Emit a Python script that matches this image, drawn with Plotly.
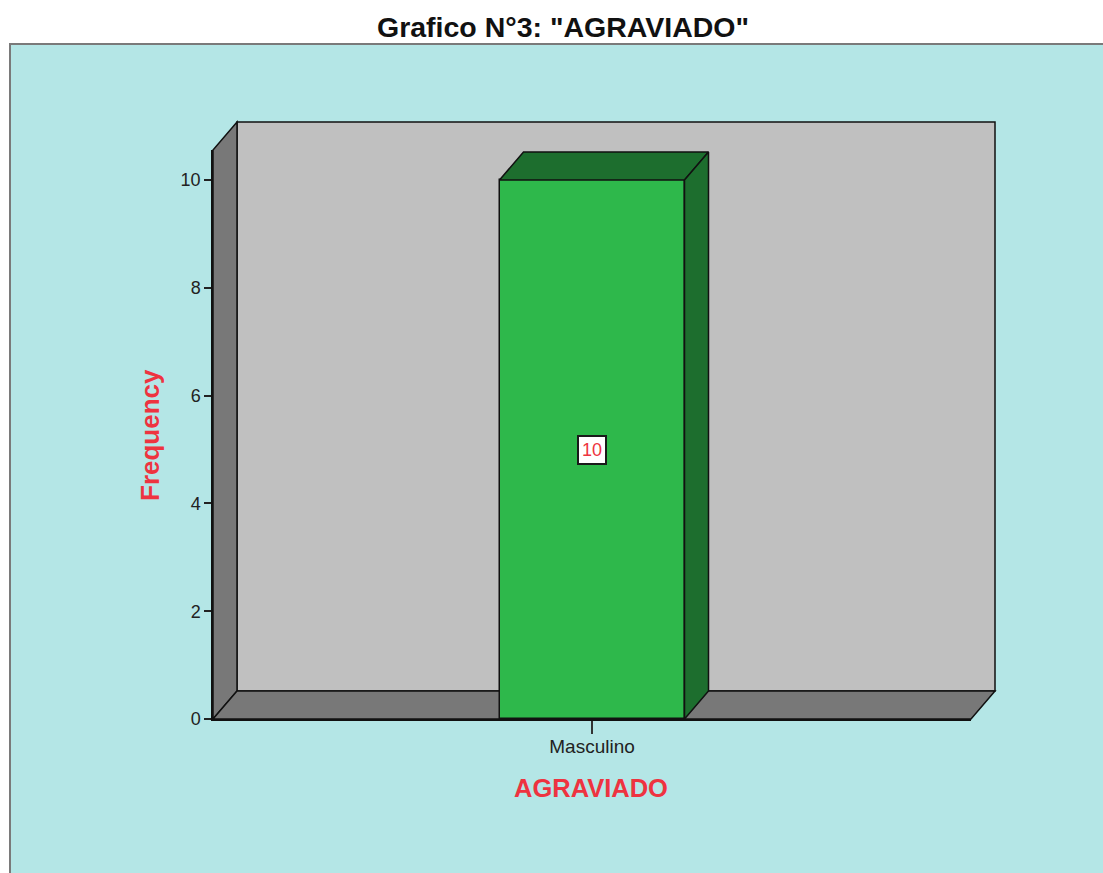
import plotly.graph_objects as go

# ---- data ----
categories = ["Masculino"]
frequencies = [10]
y_ticks = [0, 2, 4, 6, 8, 10]
title_text = 'Grafico N°3: "AGRAVIADO"'
x_title = "AGRAVIADO"
y_title = "Frequency"

# ---- geometry (pixels) ----
W, H = 1103, 873
L, R, T, B = 213, 132, 150, 154
PW, PH = W - L - R, H - T - B
px_per_unit = 53.9
ymax = PH / px_per_unit
DXP, DYP = 24, 28                      # 3D depth offset in px
dx_p, dy_p = DXP / PW, DYP / PH         # in paper units
dx_d, dy_d = DXP / PW, DYP / px_per_unit  # in data units (x range = 1)
bar_w = 185 / PW

FONT = "Liberation Sans, Arial, sans-serif"
GREEN = "#2eb84b"
DGREEN = "#1d6e2e"
WALL = "#c0c0c0"
SIDE = "#787878"
PANEL = "#b4e6e6"
RED = "#ee3340"

fig = go.Figure()

xs = list(range(len(categories)))
for xi, v in zip(xs, frequencies):
    x0, x1 = xi - bar_w / 2, xi + bar_w / 2
    # top face
    fig.add_trace(go.Scatter(
        x=[x0, x0 + dx_d, x1 + dx_d, x1, x0],
        y=[v, v + dy_d, v + dy_d, v, v],
        fill="toself", fillcolor=DGREEN, mode="lines",
        line=dict(color="#111", width=1.5), hoverinfo="skip", showlegend=False))
    # side face
    fig.add_trace(go.Scatter(
        x=[x1, x1 + dx_d, x1 + dx_d, x1, x1],
        y=[v, v + dy_d, dy_d, 0, v],
        fill="toself", fillcolor=DGREEN, mode="lines",
        line=dict(color="#111", width=1.5), hoverinfo="skip", showlegend=False))

fig.add_trace(go.Bar(
    x=xs, y=frequencies, width=bar_w,
    marker=dict(color=GREEN, line=dict(color="#111", width=1.5)),
    hoverinfo="skip", showlegend=False))

shapes = []
# cyan panel
shapes.append(dict(type="rect", xref="paper", yref="paper", layer="below",
                   x0=(10 - L) / PW, x1=(W + 20 - L) / PW,
                   y0=(H - B - (H + 20)) / PH, y1=(H - B - 44) / PH,
                   fillcolor=PANEL, line=dict(color="#7a7a7a", width=2)))
# back wall
shapes.append(dict(type="rect", xref="paper", yref="paper", layer="below",
                   x0=dx_p, x1=1 + dx_p, y0=dy_p, y1=1 + dy_p,
                   fillcolor=WALL, line=dict(color="#111", width=1.5)))
# left wall
shapes.append(dict(type="path", xref="paper", yref="paper", layer="below",
                   path=f"M 0 0 L 0 1 L {dx_p} {1 + dy_p} L {dx_p} {dy_p} Z",
                   fillcolor=SIDE, line=dict(color="#111", width=1.5)))
# floor
shapes.append(dict(type="path", xref="paper", yref="paper", layer="below",
                   path=f"M 0 0 L 1 0 L {1 + dx_p} {dy_p} L {dx_p} {dy_p} Z",
                   fillcolor=SIDE, line=dict(color="#111", width=1.5)))

annotations = [
    dict(x=xi, y=v / 2, xref="x", yref="y", text=str(v), showarrow=False,
         font=dict(family=FONT, size=18, color=RED), bgcolor="white",
         bordercolor="#1a1a1a", borderwidth=2, borderpad=3)
    for xi, v in zip(xs, frequencies)
]
annotations.append(dict(x=(150 - L) / PW, y=(H - B - 435) / PH, xref="paper", yref="paper",
                        xanchor="center", yanchor="middle",
                        text=f"<b>{y_title}</b>", textangle=-90, showarrow=False,
                        font=dict(family=FONT, size=26, color=RED)))
annotations.append(dict(x=(591 - L) / PW, y=(H - B - 788) / PH, xref="paper", yref="paper",
                        xanchor="center", yanchor="middle",
                        text=f"<b>{x_title}</b>", showarrow=False,
                        font=dict(family=FONT, size=25.5, color=RED)))

fig.update_layout(
    width=W, height=H, autosize=False,
    margin=dict(l=L, r=R, t=T, b=B, pad=0),
    paper_bgcolor="white", plot_bgcolor="rgba(0,0,0,0)",
    title=dict(text=f"<b>{title_text}</b>", x=563 / W, y=1 - 27 / H,
               xanchor="center", yanchor="middle",
               font=dict(family=FONT, size=28.5, color="#111")),
    shapes=shapes, annotations=annotations, bargap=0,
    xaxis=dict(range=[-0.5, 0.5], tickvals=xs, ticktext=categories,
               showline=True, linecolor="#111", linewidth=1.5,
               ticks="outside", ticklen=13, tickwidth=2, tickcolor="#333",
               ticklabelstandoff=-4,
               showgrid=False, zeroline=False, fixedrange=True,
               tickfont=dict(family=FONT, size=19, color="#222")),
    yaxis=dict(range=[0, ymax], tickvals=y_ticks,
               showline=True, linecolor="#111", linewidth=1.5,
               ticks="outside", ticklen=7, tickwidth=1.5, tickcolor="#222",
               showgrid=False, zeroline=False, fixedrange=True,
               tickfont=dict(family=FONT, size=18, color="#222")),
)

fig.write_html("out.html", config={"displayModeBar": False},
               post_script="document.body.style.margin='0';document.body.style.overflow='hidden';")
